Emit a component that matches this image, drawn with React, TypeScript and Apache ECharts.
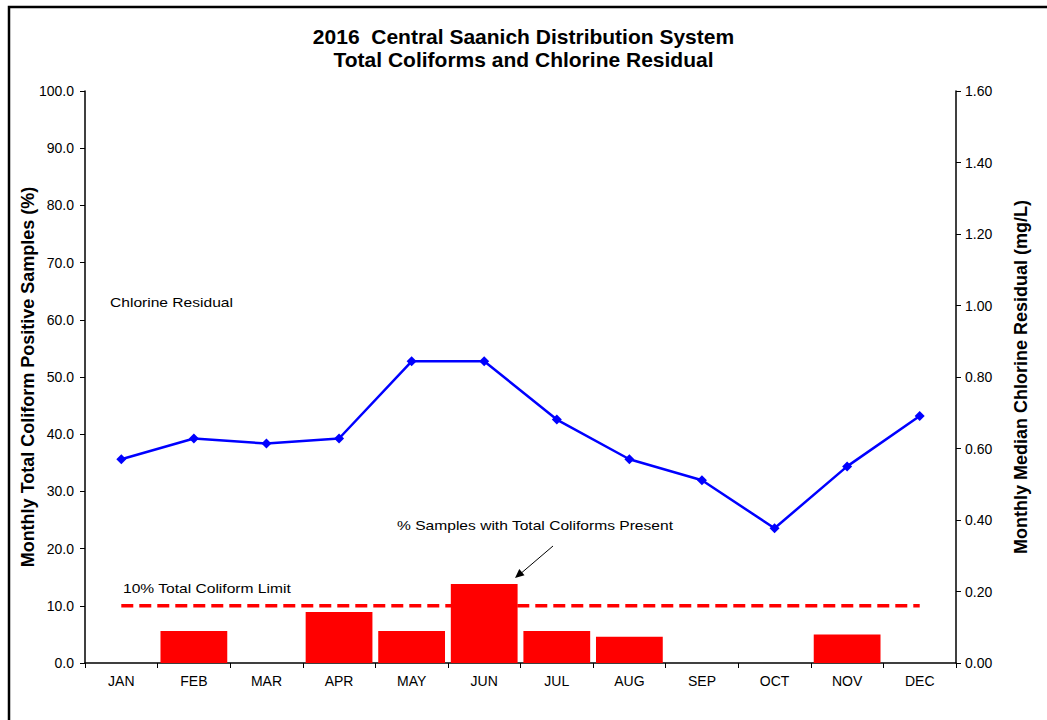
import React, { useEffect, useRef } from "react";
import * as echarts from "echarts";

const months = ["JAN", "FEB", "MAR", "APR", "MAY", "JUN", "JUL", "AUG", "SEP", "OCT", "NOV", "DEC"];
const coliformPct = [0, 5.6, 0, 8.9, 5.6, 13.8, 5.6, 4.6, 0, 0, 5.0, 0];
const chlorineResidual = [0.57, 0.628, 0.614, 0.628, 0.844, 0.844, 0.681, 0.57, 0.511, 0.377, 0.55, 0.691];
const coliformLimit = [10, 10, 10, 10, 10, 10, 10, 10, 10, 10, 10, 10];

const FONT = "Liberation Sans, Arial, sans-serif";

export default function App() {
  const ref = useRef<HTMLDivElement>(null);
  useEffect(() => {
    if (!ref.current) return;
    const chart = echarts.init(ref.current, null, { renderer: "svg" });
    const annot = (text: string, x: number, y: number) => ({
      type: "text",
      x,
      y,
      scaleX: 1.2,
      style: { text, fill: "#000", font: "13px " + FONT, textVerticalAlign: "middle" },
    });
    chart.setOption({
      animation: false,
      backgroundColor: "#ffffff",
      title: {
        text: "2016  Central Saanich Distribution System\nTotal Coliforms and Chlorine Residual",
        left: "center",
        top: 20,
        textStyle: {
          fontFamily: FONT,
          fontWeight: "bold",
          fontSize: 21,
          lineHeight: 23,
          color: "#000",
        },
      },
      grid: { left: 85, right: 91, top: 91, bottom: 57 },
      xAxis: {
        type: "category",
        data: months,
        boundaryGap: true,
        axisLine: { lineStyle: { color: "#000", width: 1.5 } },
        axisTick: { show: true, length: 5, inside: false, lineStyle: { color: "#000" } },
        axisLabel: { color: "#000", fontFamily: FONT, fontSize: 14, margin: 11 },
      },
      yAxis: [
        {
          type: "value",
          min: 0,
          max: 100,
          interval: 10,
          position: "left",
          name: "Monthly Total Coliform Positive Samples (%)",
          nameLocation: "middle",
          nameGap: 48,
          nameMoveOverlap: false,
          nameTextStyle: { color: "#000", fontFamily: FONT, fontSize: 18, fontWeight: "bold" },
          axisLine: { show: true, lineStyle: { color: "#000", width: 1.5 } },
          axisTick: { show: true, length: 5, lineStyle: { color: "#000" } },
          axisLabel: {
            color: "#000",
            fontFamily: FONT,
            fontSize: 14,
            margin: 11,
            formatter: (v: number) => v.toFixed(1),
          },
          splitLine: { show: false },
        },
        {
          type: "value",
          min: 0,
          max: 1.6,
          interval: 0.2,
          position: "right",
          name: "Monthly Median Chlorine Residual (mg/L)",
          nameLocation: "middle",
          nameGap: 56,
          nameRotate: 90,
          nameMoveOverlap: false,
          nameTextStyle: { color: "#000", fontFamily: FONT, fontSize: 18, fontWeight: "bold" },
          axisLine: { show: true, lineStyle: { color: "#000", width: 1.5 } },
          axisTick: { show: true, length: 5, lineStyle: { color: "#000" } },
          axisLabel: {
            color: "#000",
            fontFamily: FONT,
            fontSize: 14,
            margin: 9,
            formatter: (v: number) => v.toFixed(2),
          },
          splitLine: { show: false },
        },
      ],
      series: [
        {
          name: "% Samples with Total Coliforms Present",
          type: "bar",
          yAxisIndex: 0,
          data: coliformPct,
          barCategoryGap: "8%",
          itemStyle: { color: "#ff0000" },
        },
        {
          name: "10% Total Coliform Limit",
          type: "line",
          yAxisIndex: 0,
          data: coliformLimit,
          symbol: "none",
          lineStyle: { color: "#ff0000", width: 3.5, type: [12, 6] },
          z: 3,
        },
        {
          name: "Chlorine Residual",
          type: "line",
          yAxisIndex: 1,
          data: chlorineResidual,
          symbol: "diamond",
          symbolSize: 10,
          itemStyle: { color: "#0000ff" },
          lineStyle: { color: "#0000ff", width: 2.5 },
          z: 4,
        },
      ],
      graphic: [
        {
          type: "rect",
          shape: { x: 9, y: 7, width: 1100, height: 800 },
          style: { fill: "none", stroke: "#000", lineWidth: 2.5 },
          silent: true,
        },
        annot("Chlorine Residual", 110, 302),
        annot("% Samples with Total Coliforms Present", 397, 525),
        annot("10% Total Coliform Limit", 123, 588),
        {
          type: "line",
          shape: { x1: 553, y1: 546, x2: 519, y2: 575 },
          style: { stroke: "#000", lineWidth: 1 },
        },
        {
          type: "polygon",
          shape: { points: [[515, 578], [524.5, 575.3], [519.3, 569.1]] },
          style: { fill: "#000" },
        },
      ],
    });
    return () => chart.dispose();
  }, []);
  return (
    <div
      ref={ref}
      style={{ position: "absolute", left: 0, top: 0, width: 1047, height: 720 }}
    />
  );
}
